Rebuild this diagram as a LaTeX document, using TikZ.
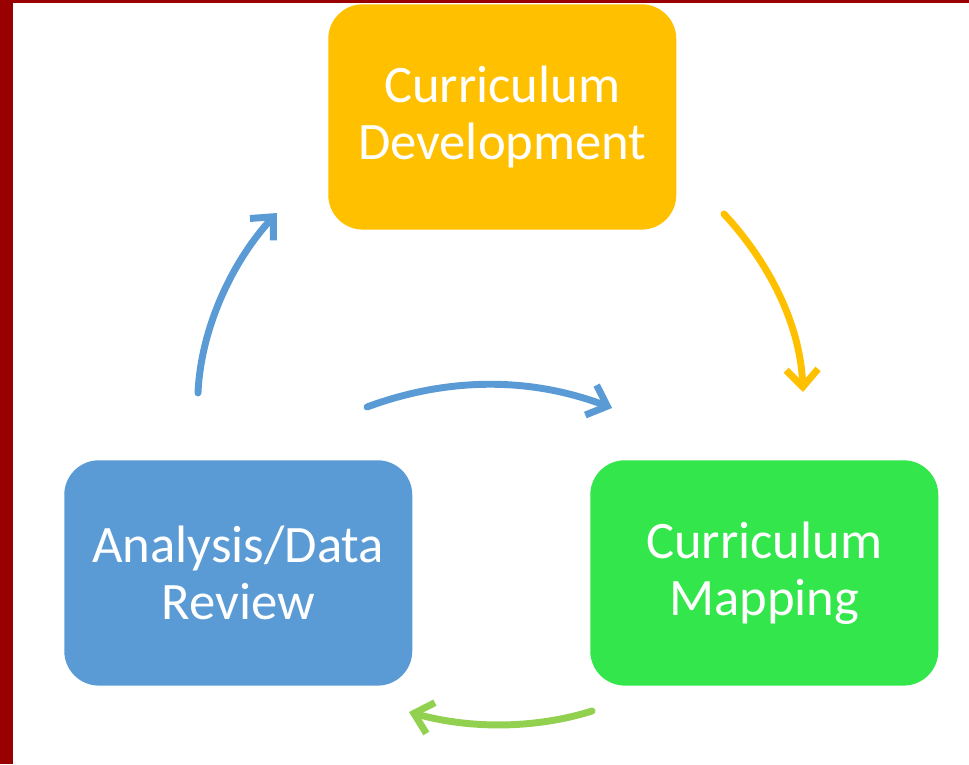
\documentclass[tikz,border=0pt]{standalone}
\usepackage{fontspec}
\setmainfont{Carlito}
\usetikzlibrary{arrows.meta}
\definecolor{boxyellow}{HTML}{FFC000}
\definecolor{boxblue}{HTML}{5B9BD5}
\definecolor{boxgreen}{HTML}{33E64B}
\definecolor{arrgreen}{HTML}{92D050}
\definecolor{frame}{HTML}{990000}
\tikzset{
  stagebox/.style={rounded corners=26pt, minimum width=261pt, minimum height=169pt,
    text=white, font=\fontsize{39.5}{43}\selectfont, align=center, inner sep=0pt, anchor=north west},
  cyc/.style={line width=5.2pt, line cap=round, -{Straight Barb[length=13pt,width=24pt,line width=5.2pt]}}
}
\begin{document}
\begin{tikzpicture}[x=0.75pt,y=-0.75pt]
\useasboundingbox (0,0) rectangle (969,764);
\fill[white] (0,0) rectangle (969,764);
\fill[frame] (0,0) rectangle (13,764);
\fill[frame] (0,0) rectangle (969,3);
\node[stagebox, fill=boxyellow] (dev) at (328,4) {Curriculum\\Development};
\node[stagebox, fill=boxblue] (ana) at (64,460) {Analysis/Data\\Review};
\node[stagebox, fill=boxgreen] (map) at (590,460) {Curriculum\\Mapping};
\coordinate (a1s) at (198,393);
\coordinate (a1e) at (277,213);
\coordinate (a2s) at (367,407);
\coordinate (a2e) at (612,408);
\coordinate (a3s) at (724,214);
\coordinate (a3e) at (803,392);
\coordinate (a4s) at (592,711);
\coordinate (a4e) at (409,712);
\draw[cyc, boxblue] (a1s) .. controls (201,325) and (235,258) .. (a1e);
\draw[cyc, boxblue] (a2s) .. controls (448,377) and (530,377) .. (a2e);
\draw[cyc, boxyellow] (a3s) .. controls (765,258) and (800,320) .. (a3e);
\draw[cyc, arrgreen] (a4s) .. controls (535,729) and (470,729) .. (a4e);
\end{tikzpicture}
\end{document}
